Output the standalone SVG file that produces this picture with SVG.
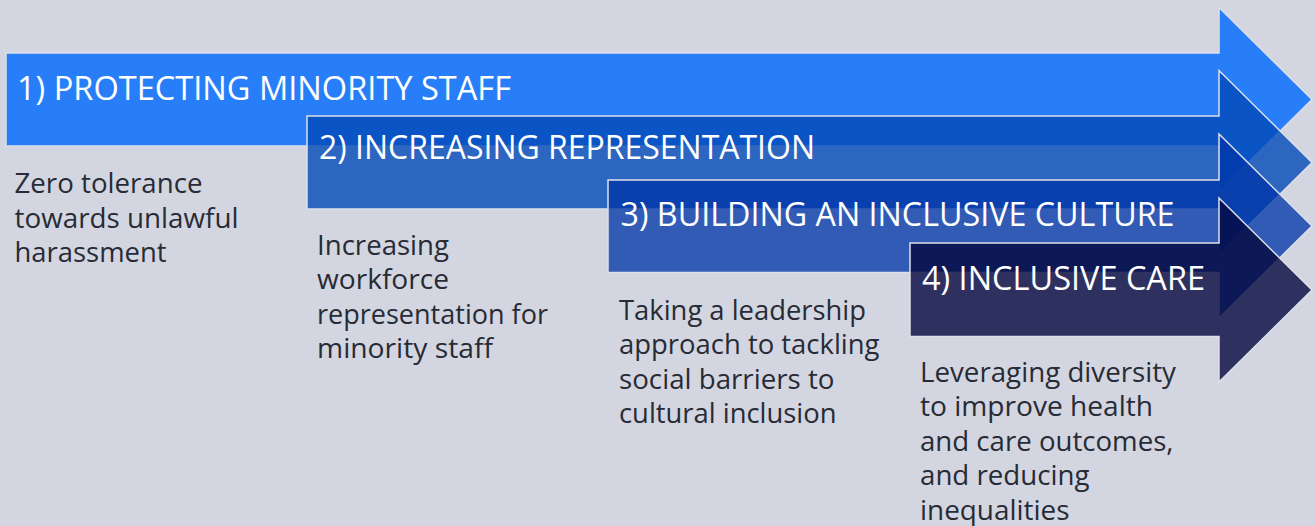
<svg xmlns="http://www.w3.org/2000/svg" width="1315" height="526" viewBox="0 0 1315 526">
  <style>
    .arrow { stroke: #dde0e9; stroke-width: 1.5; stroke-linejoin: miter; }
    .a1 { fill: #287ef8; }
    .a2 { fill: rgb(2,74,184); fill-opacity: 0.8; }
    .a3 { fill: rgb(0,53,167); fill-opacity: 0.77; }
    .a4 { fill: rgb(5,7,64); fill-opacity: 0.8; }
    .head { font-family: "Open Sans", "Liberation Sans", sans-serif; font-size: 32.5px; fill: #ffffff; }
    .body { font-family: "Open Sans", "Liberation Sans", sans-serif; font-size: 26.5px; fill: #272b35; }
  </style>

  <!-- background -->
  <rect x="0" y="0" width="1315" height="526" fill="#d3d6e0"/>

  <!-- step 1 -->
  <g id="step1">
    <path class="arrow a1" d="M6,53 L1219,53 L1219,7.5 L1312,99.5 L1219,191.5 L1219,146 L6,146 Z"/>
    <text class="head" x="17" y="100" textLength="494" lengthAdjust="spacingAndGlyphs">1) PROTECTING MINORITY STAFF</text>
    <text class="body" x="14.5" y="193" textLength="188" lengthAdjust="spacingAndGlyphs">Zero tolerance</text>
    <text class="body" x="14.5" y="227.5" textLength="224" lengthAdjust="spacingAndGlyphs">towards unlawful</text>
    <text class="body" x="14.5" y="262" textLength="152" lengthAdjust="spacingAndGlyphs">harassment</text>
  </g>

  <!-- step 2 -->
  <g id="step2">
    <path class="arrow a2" d="M307,116 L1219,116 L1219,70.5 L1312,162.5 L1219,254.5 L1219,209 L307,209 Z"/>
    <text class="head" x="319" y="158.5" textLength="496" lengthAdjust="spacingAndGlyphs">2) INCREASING REPRESENTATION</text>
    <text class="body" x="317" y="254.5" textLength="132" lengthAdjust="spacingAndGlyphs">Increasing</text>
    <text class="body" x="317" y="289" textLength="132" lengthAdjust="spacingAndGlyphs">workforce</text>
    <text class="body" x="317" y="323.5" textLength="231" lengthAdjust="spacingAndGlyphs">representation for</text>
    <text class="body" x="317" y="358" textLength="176" lengthAdjust="spacingAndGlyphs">minority staff</text>
  </g>

  <!-- step 3 -->
  <g id="step3">
    <path class="arrow a3" d="M608,180 L1219,180 L1219,134 L1312,226 L1219,318 L1219,272.5 L608,272.5 Z"/>
    <text class="head" x="620.5" y="226" textLength="554" lengthAdjust="spacingAndGlyphs">3) BUILDING AN INCLUSIVE CULTURE</text>
    <text class="body" x="619" y="319.5" textLength="247" lengthAdjust="spacingAndGlyphs">Taking a leadership</text>
    <text class="body" x="619" y="354" textLength="260.5" lengthAdjust="spacingAndGlyphs">approach to tackling</text>
    <text class="body" x="619" y="388.5" textLength="215.5" lengthAdjust="spacingAndGlyphs">social barriers to</text>
    <text class="body" x="619" y="423" textLength="217.5" lengthAdjust="spacingAndGlyphs">cultural inclusion</text>
  </g>

  <!-- step 4 -->
  <g id="step4">
    <path class="arrow a4" d="M910,243 L1219,243 L1219,198 L1312,290 L1219,382 L1219,336.5 L910,336.5 Z"/>
    <text class="head" x="922" y="289.5" textLength="283" lengthAdjust="spacingAndGlyphs">4) INCLUSIVE CARE</text>
    <text class="body" x="920" y="381.5" textLength="256" lengthAdjust="spacingAndGlyphs">Leveraging diversity</text>
    <text class="body" x="920" y="416" textLength="233" lengthAdjust="spacingAndGlyphs">to improve health</text>
    <text class="body" x="920" y="450.5" textLength="253.5" lengthAdjust="spacingAndGlyphs">and care outcomes,</text>
    <text class="body" x="920" y="485" textLength="169.5" lengthAdjust="spacingAndGlyphs">and reducing</text>
    <text class="body" x="920" y="519.5" textLength="149.5" lengthAdjust="spacingAndGlyphs">inequalities</text>
  </g>
</svg>
